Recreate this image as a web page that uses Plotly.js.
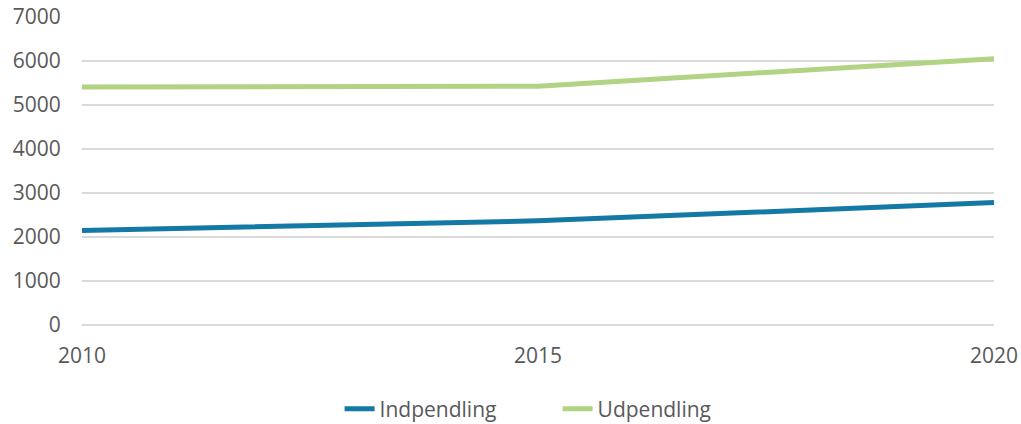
<!DOCTYPE html>
<html>
<head>
<meta charset="utf-8">
<script src="https://cdn.plot.ly/plotly-3.0.1.min.js"></script>
<style>html,body{margin:0;padding:0;background:#fff;}#chart{width:1021px;height:424px;}</style>
</head>
<body>
<div id="chart"></div>
<script>
const years = [2010, 2015, 2020];
const indpendling = [2148, 2367, 2782];
const udpendling = [5410, 5426, 6053];
const yTicks = [0, 1000, 2000, 3000, 4000, 5000, 6000, 7000];
const xTicks = [2010, 2015, 2020];

const font = {family: '"Open Sans", "Liberation Sans", sans-serif', size: 21, color: '#595959'};

const traces = [
  {x: years, y: indpendling, name: 'Indpendling', type: 'scatter', mode: 'lines',
   line: {color: '#1479A5', width: 5}},
  {x: years, y: udpendling, name: 'Udpendling', type: 'scatter', mode: 'lines',
   line: {color: '#B0D384', width: 5}}
];

const layout = {
  width: 1021, height: 424,
  margin: {l: 82, r: 27, t: 16.5, b: 98.5, autoexpand: false},
  paper_bgcolor: '#fff', plot_bgcolor: '#fff',
  font: font,
  showlegend: true,
  legend: {orientation: 'h', x: 0.3326, xanchor: 'left', xref: 'container',
           y: 0.035, yanchor: 'middle', yref: 'container', font: font,
           entrywidth: 173, entrywidthmode: 'pixels'},
  xaxis: {range: [2010, 2020], tickvals: xTicks, ticktext: xTicks.map(String), showgrid: false,
          zeroline: false, showline: false, ticks: 'outside', ticklen: 12, tickcolor: 'rgba(0,0,0,0)',
          automargin: false},
  yaxis: {range: [0, 7000], tickvals: yTicks, showgrid: true, gridcolor: '#d9d9d9', gridwidth: 1.5,
          zeroline: true, zerolinecolor: '#d9d9d9', zerolinewidth: 1.5,
          showline: false, ticks: 'outside', ticklen: 16, tickcolor: 'rgba(0,0,0,0)', automargin: false}
};

Plotly.newPlot('chart', traces, layout, {displayModeBar: false, staticPlot: true});
</script>
</body>
</html>
